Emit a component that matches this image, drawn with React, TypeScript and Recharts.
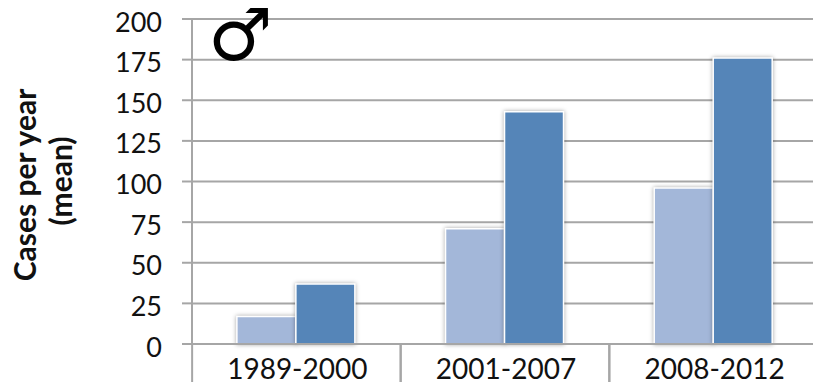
import { BarChart, Bar, CartesianGrid, XAxis, YAxis } from "recharts";

const periods = ["1989-2000", "2001-2007", "2008-2012"];
const lightValues = [17, 71, 96];
const darkValues = [37, 143, 176];
const yTicks = [0, 25, 50, 75, 100, 125, 150, 175, 200];

const data = periods.map((period, i) => ({
  period,
  light: lightValues[i],
  dark: darkValues[i],
}));

const GRID = "#a6a6a6";
const FONT = "Lato, sans-serif";
const BAR_SHADOW = "drop-shadow(0 0 2px rgba(0,0,0,0.35))";
const BAND = 208.4;

// category label plus the long separators hanging under the axis
function PeriodTick({ x, payload }: any) {
  return (
    <g>
      <line x1={x - BAND / 2} x2={x - BAND / 2} y1={344} y2={382} stroke={GRID} strokeWidth={2} />
      <line x1={x + BAND / 2} x2={x + BAND / 2} y1={344} y2={382} stroke={GRID} strokeWidth={2} />
      <text x={x + 1} y={379} textAnchor="middle" fontFamily={FONT} fontSize={28} fill="#111">
        {payload.value}
      </text>
    </g>
  );
}

export default function App() {
  return (
    <div style={{ position: "absolute", left: 0, top: 0, width: 813, height: 382, overflow: "hidden", background: "#fff" }}>
      <BarChart
        width={826}
        height={382}
        data={data}
        margin={{ top: 19, right: 8, bottom: 0, left: 0 }}
        barCategoryGap="21.5%"
        barGap={0}
      >
        <CartesianGrid vertical={false} stroke={GRID} strokeWidth={2} />
        <XAxis
          dataKey="period"
          height={38}
          interval={0}
          axisLine={{ stroke: GRID, strokeWidth: 2 }}
          tickLine={false}
          tick={<PeriodTick />}
        />
        <YAxis
          width={192}
          domain={[0, 200]}
          ticks={yTicks}
          interval={0}
          axisLine={{ stroke: GRID, strokeWidth: 2 }}
          tickLine={{ stroke: GRID, strokeWidth: 2 }}
          tickSize={10}
          tickMargin={20}
          tick={{ fontFamily: FONT, fontSize: 27, fill: "#111", dy: 3 }}
        />
        <Bar dataKey="light" fill="#a3b7d9" stroke="#fff" strokeWidth={1.5} style={{ filter: BAR_SHADOW }} isAnimationActive={false} />
        <Bar dataKey="dark" fill="#5585b8" stroke="#fff" strokeWidth={1.5} style={{ filter: BAR_SHADOW }} isAnimationActive={false} />
        <text
          transform="translate(36 185) rotate(-90)"
          textAnchor="middle"
          fontFamily={FONT}
          fontSize={30}
          fontWeight={700}
          fill="#111"
        >
          Cases per year
        </text>
        <text
          transform="translate(72 181) rotate(-90)"
          textAnchor="middle"
          fontFamily={FONT}
          fontSize={30}
          fontWeight={700}
          fill="#111"
        >
          (mean)
        </text>
        <text x={208} y={60} fontFamily="DejaVu Sans" fontSize={72} fontWeight={700} fill="#000">
          ♂
        </text>
      </BarChart>
    </div>
  );
}
